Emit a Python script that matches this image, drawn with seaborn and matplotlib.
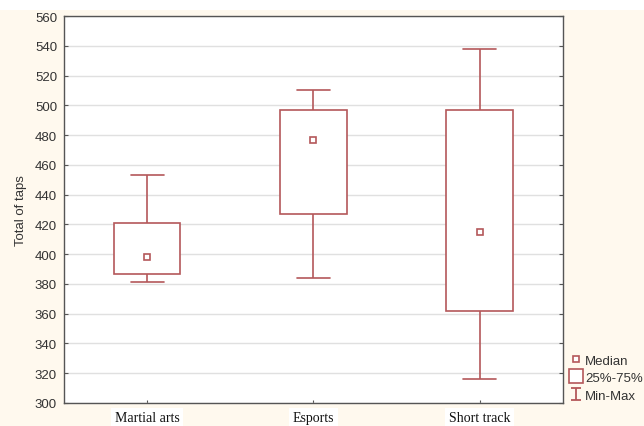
import matplotlib
matplotlib.use("Agg")
import matplotlib.pyplot as plt
from matplotlib.lines import Line2D
from matplotlib.path import Path
from matplotlib.patches import Rectangle
import seaborn as sns
import pandas as pd

# Five-number summaries per group: min, 25%, median, 75%, max
groups = ["Martial arts", "Esports", "Short track"]
mins = [381, 384, 316]
q1s = [387, 427, 362]
medians = [398, 477, 415]
q3s = [421, 497, 497]
maxs = [453, 510, 538]

y_ticks = list(range(300, 561, 20))

# With five points per group the linear-interpolated quartiles equal these values
rows = []
for g, a, b, c, d, e in zip(groups, mins, q1s, medians, q3s, maxs):
    for v in (a, b, c, d, e):
        rows.append({"group": g, "taps": v})
df = pd.DataFrame(rows)

sns.set_style("white")
plt.rcParams["font.family"] = ["Liberation Sans", "DejaVu Sans"]

box_color = "#B4585A"
cream = "#FFF9EE"

fig = plt.figure(figsize=(6.44, 4.27), dpi=100, facecolor=cream)
fig.patches.append(Rectangle((0, 0.974), 1, 0.026, transform=fig.transFigure,
                             facecolor="white", edgecolor="none", zorder=0))
ax = fig.add_axes([0.0994, 0.0539, 0.7746, 0.9061])
ax.set_facecolor("white")

sns.boxplot(data=df, x="group", y="taps", order=groups, whis=(0, 100), width=0.4,
            ax=ax, color="white", linecolor=box_color, linewidth=1.2,
            showfliers=False,
            medianprops={"visible": False},
            capprops={"color": box_color, "linewidth": 1.2},
            whiskerprops={"color": box_color, "linewidth": 1.2},
            boxprops={"facecolor": "white", "edgecolor": box_color, "linewidth": 1.2})

# Median markers
ax.plot(range(len(groups)), medians, linestyle="none", marker="s", markersize=4,
        markerfacecolor="white", markeredgecolor=box_color, markeredgewidth=1.2,
        zorder=5)

ax.set_ylim(300, 560)
ax.set_xlim(-0.5, 2.5)
ax.set_yticks(y_ticks)
ax.yaxis.grid(True, color="#E0E0E0", linewidth=1.0)
ax.set_axisbelow(True)

ax.tick_params(axis="y", direction="in", length=3, width=0.8, color="#555555",
               left=True, right=True, labelsize=9.5, labelcolor="#333333", pad=5)
ax.tick_params(axis="x", direction="in", length=2, width=0.8, color="#555555",
               bottom=True, top=False, pad=6)
for s in ax.spines.values():
    s.set_color("#555555")
    s.set_linewidth(1.0)

ax.set_xlabel("")
ax.set_ylabel("Total of taps", fontsize=9.5, color="#333333", labelpad=6)
ax.set_xticks(range(len(groups)))
ax.set_xticklabels(groups, family=["Liberation Serif", "DejaVu Serif"], fontsize=10,
                   color="#111111")
for t in ax.get_xticklabels():
    t.set_bbox(dict(facecolor="white", edgecolor="none", pad=2.5))

# Legend with Statistica-like symbols
ibeam = Path([(-0.45, 0.5), (0.45, 0.5), (0, 0.5), (0, -0.5), (-0.45, -0.5), (0.45, -0.5)],
             [Path.MOVETO, Path.LINETO, Path.MOVETO, Path.LINETO, Path.MOVETO, Path.LINETO])
handles = [
    Line2D([], [], linestyle="none", marker="s", markersize=4, markerfacecolor="white",
           markeredgecolor=box_color, markeredgewidth=1.2),
    Line2D([], [], linestyle="none", marker="s", markersize=10, markerfacecolor="white",
           markeredgecolor=box_color, markeredgewidth=1.2),
    Line2D([], [], linestyle="none", marker=ibeam, markersize=8.5, markerfacecolor="none",
           markeredgecolor=box_color, markeredgewidth=1.3),
]
labels = ["Median", "25%-75%", "Min-Max"]
fig.legend(handles, labels, loc="lower left", bbox_to_anchor=(0.872, 0.035),
           frameon=False, fontsize=9.5, handlelength=0.8, handleheight=1.0,
           handletextpad=0.3, labelspacing=0.3, borderpad=0.2, labelcolor="#333333")

fig.savefig("out.png", dpi=100, facecolor=cream)
